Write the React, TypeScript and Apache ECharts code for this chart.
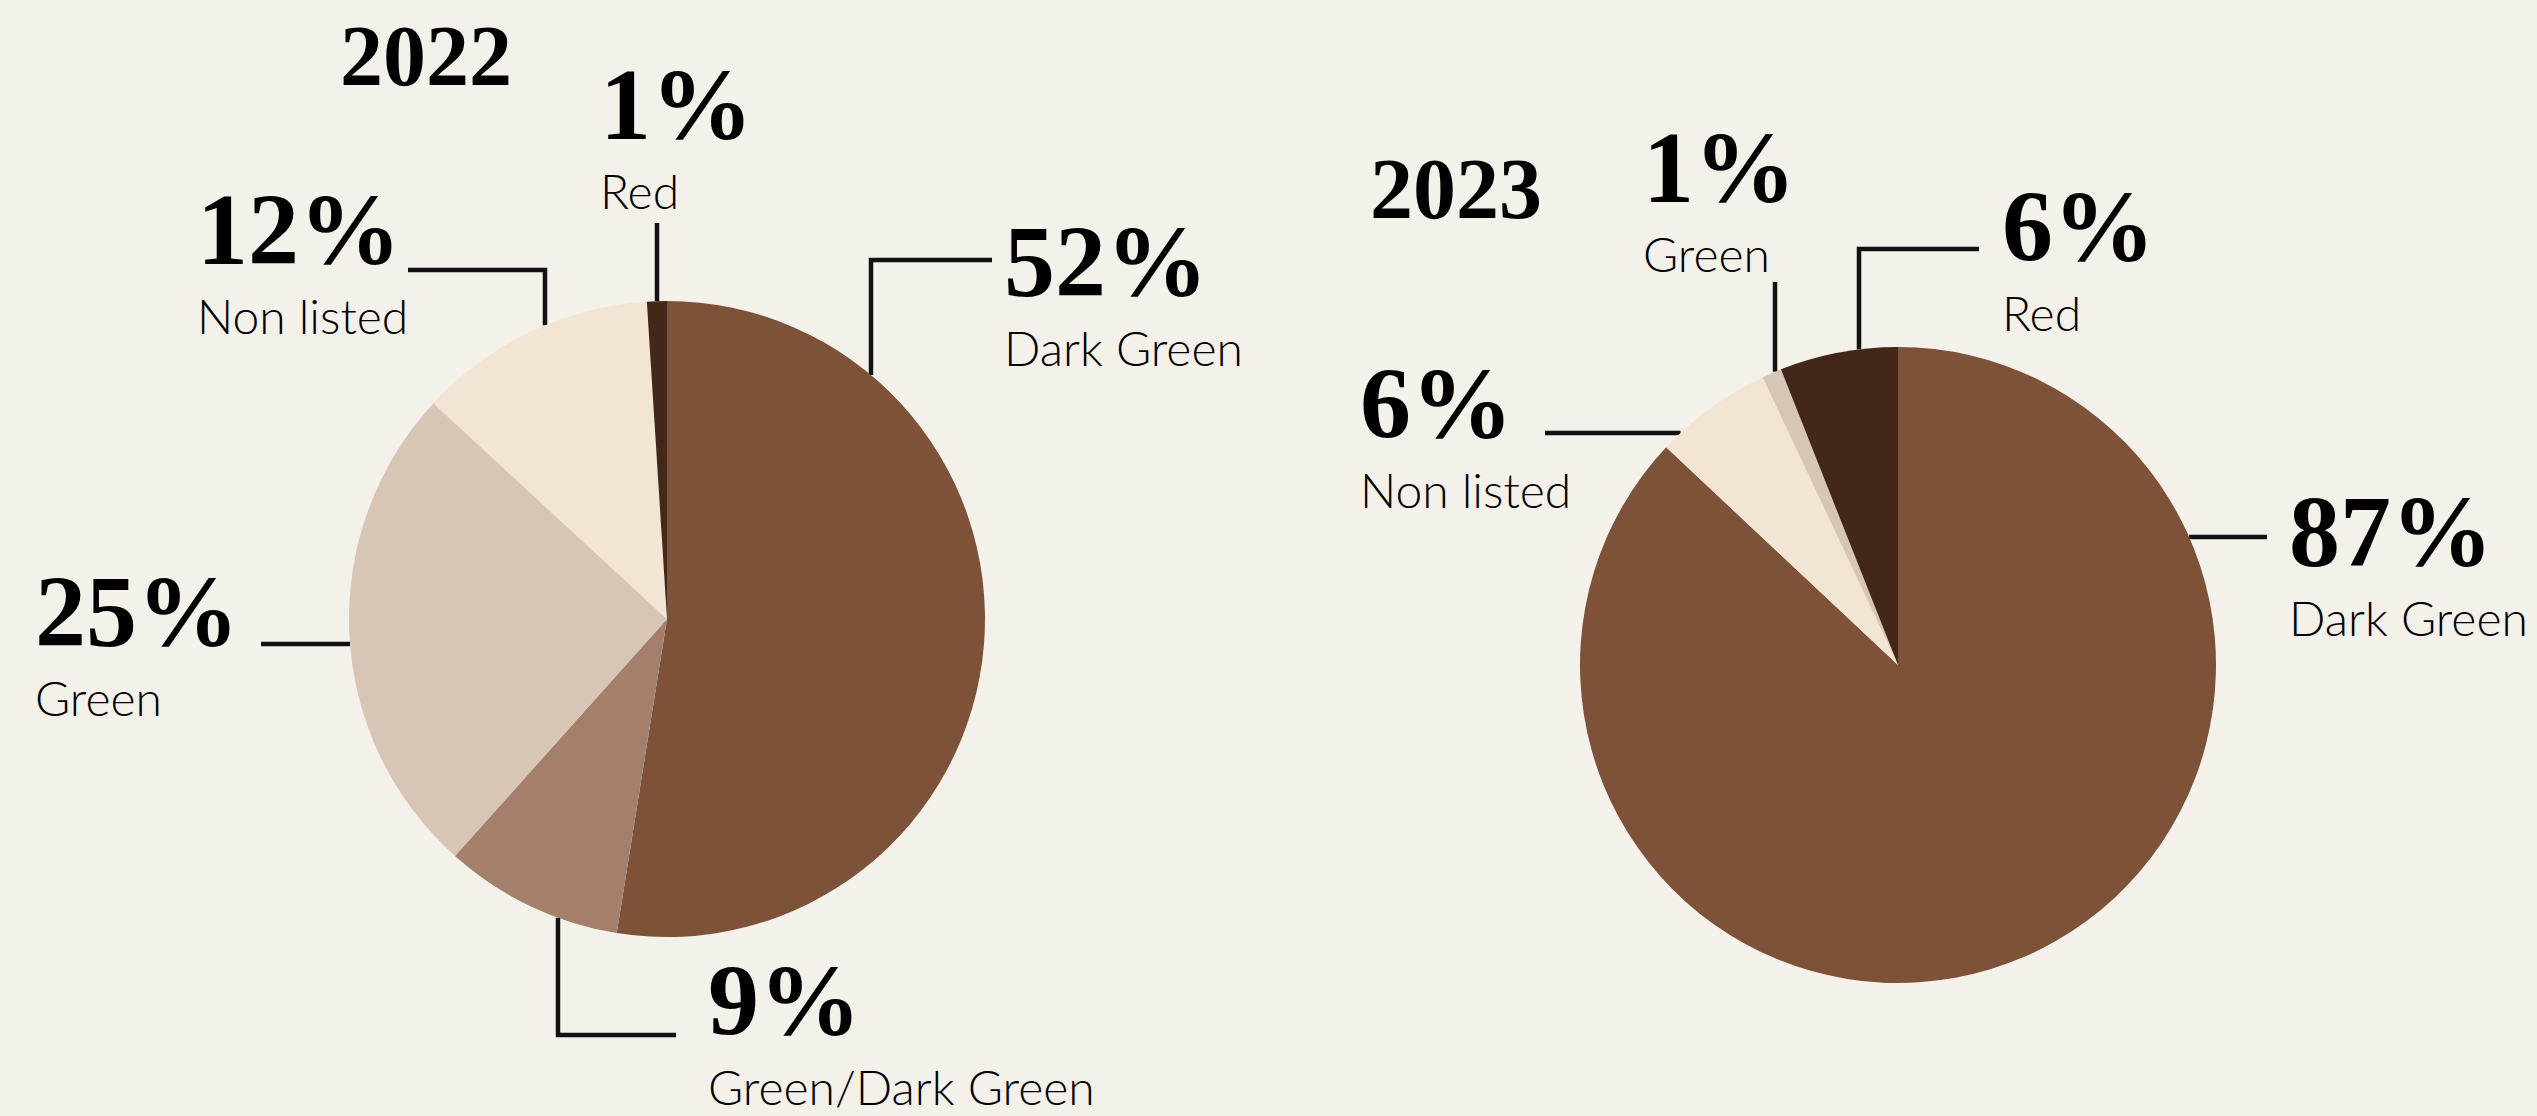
import React, { useEffect, useRef } from "react";
import * as echarts from "echarts";

// ---------- data ----------
const years = ["2022", "2023"];
const categories2022 = ["Dark Green", "Green/Dark Green", "Green", "Non listed", "Red"];
const values2022 = [52, 9, 25, 12, 1];
const categories2023 = ["Dark Green", "Non listed", "Green", "Red"];
const values2023 = [87, 6, 1, 6];

// ---------- styles ----------
const categoryColors: Record<string, string> = {
  "Dark Green": "#7e5139",
  "Green/Dark Green": "#a47f6c",
  Green: "#d7c6b6",
  "Non listed": "#f3e5d4",
  Red: "#43281a",
};
const BG = "#f4f0ea";
const SERIF = "'Liberation Serif', 'Times New Roman', serif";
const SANS = "Lato, 'Open Sans', sans-serif";

// pie geometry (px)
const pieCenters = [
  [667, 619],
  [1898, 665],
];
const PIE_R = 318;

// label anchors: [left x, baseline of the percentage line]
const labelPos2022 = [
  [1004, 296],
  [708, 1035],
  [35, 646],
  [197, 264],
  [600, 139],
];
const labelPos2023 = [
  [2289, 566],
  [1360, 438],
  [1643, 202],
  [2002, 261],
];

// leader lines: [direction of first segment, coordinate, side of circle, end of first segment, end of second segment]
type Leader = [string, number, number, number, number?];
const leaders2022: Leader[] = [
  ["v", 871, -1, 260, 992],
  ["v", 558, 1, 1035, 676],
  ["h", 644, -1, 261],
  ["v", 545, -1, 270, 408],
  ["v", 657, -1, 223],
];
const leaders2023: Leader[] = [
  ["h", 537, 1, 2267],
  ["h", 433, -1, 1545],
  ["v", 1775, -1, 282],
  ["v", 1859, -1, 249, 1979],
];

const titlePos = [
  [340, 13],
  [1370, 146],
];

const P_SIZE = 102;
const P_LH = 110;
const N_SIZE = 48;
const N_LH = 62;
const BASE_OFFSET = P_LH / 2 + 0.3375 * P_SIZE;

function leaderPoints(l: Leader, c: number[]) {
  const [dir, at, side, mid, end] = l;
  const [cx, cy] = c;
  if (dir === "v") {
    const dy = Math.sqrt(Math.max(0, PIE_R * PIE_R - (at - cx) * (at - cx)));
    const pts = [
      [at, cy + side * dy],
      [at, mid],
    ];
    if (end != null) pts.push([end, mid]);
    else pts.push([at, mid]);
    return pts;
  }
  const dx = Math.sqrt(Math.max(0, PIE_R * PIE_R - (at - cy) * (at - cy)));
  return [
    [cx + side * dx, at],
    [mid, at],
    [mid, at],
  ];
}

function makeSeries(
  cats: string[],
  vals: number[],
  center: number[],
  labelPos: number[][],
  leaders: Leader[]
) {
  return {
    type: "pie",
    center,
    radius: PIE_R,
    startAngle: 90,
    clockwise: true,
    avoidLabelOverlap: false,
    emphasis: { disabled: true },
    data: cats.map((name, i) => ({
      name,
      value: vals[i],
      itemStyle: { color: categoryColors[name] },
    })),
    itemStyle: { borderWidth: 0 },
    label: {
      show: true,
      position: "outside",
      formatter: (p: any) => `{p|${p.value}%}\n{n|${p.name}}`,
      rich: {
        p: {
          fontFamily: SERIF,
          fontWeight: "bold",
          fontSize: P_SIZE,
          lineHeight: P_LH,
          color: "#000",
        },
        n: {
          fontFamily: SANS,
          fontWeight: 300,
          fontSize: N_SIZE,
          lineHeight: N_LH,
          color: "#000",
        },
      },
    },
    labelLine: {
      show: true,
      smooth: false,
      lineStyle: { color: "#111", width: 4.5, cap: "butt" },
    },
    labelLayout: (params: any) => {
      const i = params.dataIndex;
      const [lx, lb] = labelPos[i];
      return {
        x: lx,
        y: lb - BASE_OFFSET,
        align: "left",
        verticalAlign: "top",
        labelLinePoints: leaderPoints(leaders[i], center),
      };
    },
  };
}

export default function App() {
  const ref = useRef<HTMLDivElement>(null);

  useEffect(() => {
    document.body.style.margin = "0";
    document.body.style.background = BG;
    if (!ref.current) return;
    const chart = echarts.init(ref.current, null, { renderer: "svg" });
    chart.setOption({
      animation: false,
      backgroundColor: BG,
      title: years.map((y, i) => ({
        text: y,
        left: titlePos[i][0],
        top: titlePos[i][1],
        padding: 0,
        textStyle: {
          fontFamily: SERIF,
          fontWeight: "bold",
          fontSize: 86,
          lineHeight: 86,
          color: "#000",
        },
      })),
      series: [
        makeSeries(categories2022, values2022, pieCenters[0], labelPos2022, leaders2022),
        makeSeries(categories2023, values2023, pieCenters[1], labelPos2023, leaders2023),
      ],
    });
    return () => chart.dispose();
  }, []);

  return <div ref={ref} style={{ width: "100vw", height: "100vh" }} />;
}
